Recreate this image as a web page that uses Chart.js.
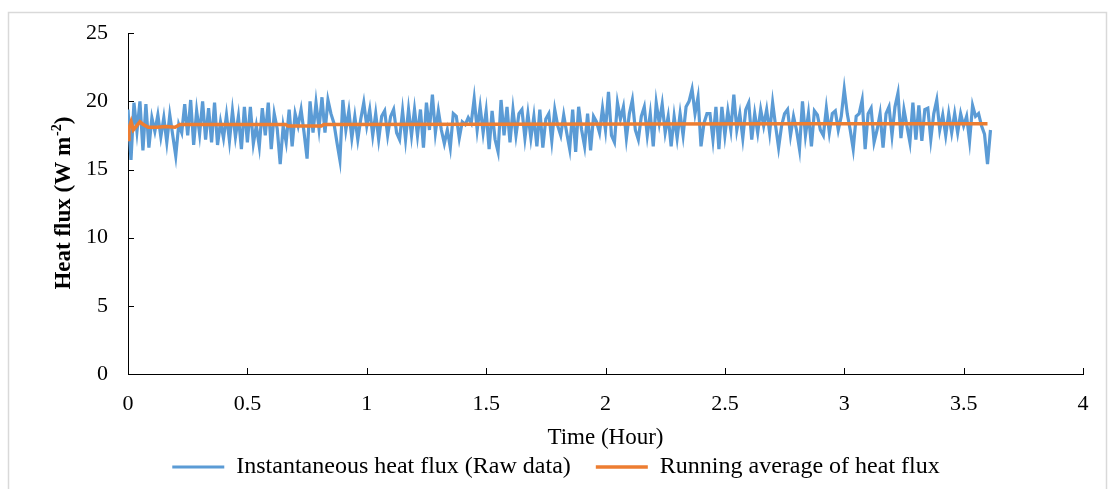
<!DOCTYPE html>
<html><head><meta charset="utf-8">
<script src="https://cdn.jsdelivr.net/npm/chart.js@4.4.1/dist/chart.umd.min.js"></script>
<style>html,body{margin:0;padding:0;background:#fff;overflow:hidden}canvas{display:block}</style>
</head><body>
<canvas id="c" width="1115" height="489"></canvas>
<script>
// ---- data ----
const sampleIntervalHours = 0.0125; // one raw reading every 45 s
const rawFlux = [
  // 0 - 0.575 h
  19.4, 15.7, 19.9, 17.8, 20.0, 16.4, 19.8, 16.6, 18.8, 17.8,
  19.0, 17.4, 18.8, 17.0, 19.0, 17.5, 16.0, 18.3, 17.7, 19.8,
  17.5, 20.1, 16.8, 19.3, 17.6, 20.0, 17.2, 19.5, 17.0, 19.9,
  16.8, 18.5, 17.3, 19.0, 17.1, 19.3, 17.4, 18.9, 16.5, 19.6,
  17.0, 19.6, 16.9, 18.2, 16.7, 19.5, 17.5,
  // 0.5875 - 1.2 h
  19.9, 16.5, 19.1, 18.0, 15.4, 18.2, 17.0, 19.4, 16.7, 19.1,
  18.2, 19.4, 17.7, 15.8, 20.0, 17.7, 19.9, 18.0, 20.3, 17.7,
  20.1, 19.1, 18.4, 17.0, 15.7, 20.1, 17.9, 19.3, 17.3, 18.9,
  17.2, 18.7, 19.9, 18.2, 19.4, 17.5, 19.1, 17.2, 18.9, 19.3,
  17.5, 18.9, 19.4, 17.7, 17.2, 19.3, 17.2, 19.4, 17.5, 19.4,
  // 1.2125 - 1.8 h
  17.5, 19.4, 16.6, 19.9, 17.9, 20.5, 17.7, 19.3, 17.9, 16.9,
  17.9, 16.6, 19.1, 18.9, 17.3, 18.5, 18.3, 18.8, 18.4, 20.2,
  17.9, 19.6, 17.7, 19.3, 16.5, 19.3, 17.2, 16.3, 20.1, 17.5,
  19.6, 17.0, 19.4, 17.5, 19.1, 19.4, 17.3, 19.1, 17.3, 18.9,
  16.7, 19.4, 16.6, 18.7, 19.1, 17.1, 19.4, 18.2,
  // 1.8125 - 2.4125 h
  17.5, 19.0, 17.7, 16.5, 19.4, 16.3, 19.6, 17.9, 16.7, 19.1,
  16.4, 18.9, 18.5, 17.7, 19.5, 17.9, 20.7, 17.5, 17.0, 19.9,
  18.7, 19.6, 17.3, 19.1, 20.1, 17.9, 17.2, 18.9, 19.6, 17.5,
  19.1, 16.7, 19.9, 18.4, 19.8, 17.7, 18.9, 16.7, 18.9, 17.3,
  19.1, 17.5, 19.6, 20.0, 20.9, 19.1, 20.3, 16.7, 18.4, 19.1,
  // 2.425 - 3.025 h
  19.1, 17.2, 19.6, 16.5, 19.6, 17.5, 19.3, 17.9, 20.5, 17.9,
  19.1, 17.3, 19.4, 19.9, 17.2, 19.1, 17.7, 19.4, 18.2, 19.4,
  17.7, 19.9, 18.2, 16.6, 18.2, 19.1, 19.4, 17.5, 18.9, 17.9,
  16.5, 20.0, 17.5, 19.1, 16.7, 19.3, 19.0, 17.9, 17.5, 19.5,
  17.7, 19.1, 19.3, 17.9, 18.9, 20.9, 19.1, 17.9, 16.5,
  // 3.0375 - 3.6 h
  18.9, 19.1, 20.1, 16.5, 19.1, 19.5, 17.0, 17.9, 19.1, 16.6,
  19.1, 19.6, 17.5, 19.6, 20.6, 17.3, 19.4, 18.2, 17.0, 19.9,
  17.2, 19.7, 17.1, 19.4, 19.5, 17.2, 19.1, 20.1, 17.9, 19.0,
  17.5, 19.1, 17.7, 19.1, 17.7, 19.1, 18.2, 18.9, 17.1, 19.7,
  18.9, 19.1, 18.2, 17.6, 15.4, 17.9
];
const avgTimes = [0, 0.004, 0.013, 0.022, 0.036, 0.05, 0.064, 0.085, 0.12, 0.16, 0.197, 0.218, 0.66, 0.67, 0.81, 0.82, 2.86, 3.6];
const avgFlux  = [17.2, 18.0, 18.5, 17.9, 18.2, 18.5, 18.3, 18.1, 18.1, 18.15, 18.1, 18.3, 18.3, 18.2, 18.2, 18.3, 18.35, 18.35];

const seriesLabels = ['Instantaneous heat flux (Raw data)', 'Running average of heat flux'];
const seriesColors = ['#5B9BD5', '#ED7D31'];
const xTitle = 'Time (Hour)';
const yTitleParts = ['Heat flux (W m', '-2', ')'];
const xRange = [0, 4], xStep = 0.5;
const yRange = [0, 25], yStep = 5;

// ---- build datasets ----
const rawPoints = rawFlux.map((v, i) => ({x: +(i * sampleIntervalHours).toFixed(4), y: v}));
const avgPoints = avgTimes.map((t, i) => ({x: t, y: avgFlux[i]}));

const FONT = 'Liberation Serif';
Chart.defaults.font.family = FONT;
Chart.defaults.color = '#000';

const decor = {
  id: 'decor',
  beforeDraw(chart) {
    const ctx = chart.ctx;
    ctx.save();
    ctx.fillStyle = '#fff';
    ctx.fillRect(0, 0, chart.width, chart.height);
    ctx.strokeStyle = '#d9d9d9';
    ctx.lineWidth = 1.5;
    ctx.strokeRect(8.5, 12.5, 1098, 490);
    ctx.restore();
  },
  beforeDatasetsDraw(chart) {
    const ctx = chart.ctx, xs = chart.scales.x, ys = chart.scales.y, a = chart.chartArea;
    ctx.save();
    ctx.strokeStyle = '#000';
    ctx.lineWidth = 1;
    ctx.beginPath();
    xs.ticks.forEach(t => {
      const px = Math.round(xs.getPixelForValue(t.value)) + 0.5;
      ctx.moveTo(px, a.bottom); ctx.lineTo(px, a.bottom - 6);
    });
    ys.ticks.forEach(t => {
      const py = Math.round(ys.getPixelForValue(t.value)) + 0.5;
      ctx.moveTo(a.left, py); ctx.lineTo(a.left + 6, py);
    });
    ctx.stroke();
    ctx.restore();
  },
  afterDraw(chart) {
    const ctx = chart.ctx, a = chart.chartArea;
    ctx.save();
    ctx.translate(62, (a.top + a.bottom) / 2);
    ctx.rotate(-Math.PI / 2);
    ctx.fillStyle = '#000';
    ctx.textBaseline = 'alphabetic';
    ctx.textAlign = 'left';
    const big = 'bold 23px "' + FONT + '"', small = 'bold 14px "' + FONT + '"';
    ctx.font = big; const w1 = ctx.measureText(yTitleParts[0]).width;
    ctx.font = small; const w2 = ctx.measureText(yTitleParts[1]).width;
    ctx.font = big; const w3 = ctx.measureText(yTitleParts[2]).width;
    let x = -(w1 + w2 + w3) / 2;
    const base = 7.5;
    ctx.font = big; ctx.fillText(yTitleParts[0], x, base);
    ctx.font = small; ctx.fillText(yTitleParts[1], x + w1 + 1, base - 9);
    ctx.font = big; ctx.fillText(yTitleParts[2], x + w1 + w2 + 1, base);
    ctx.restore();
  }
};

new Chart(document.getElementById('c'), {
  type: 'line',
  data: {
    datasets: [
      {label: seriesLabels[0], data: rawPoints, borderColor: seriesColors[0], backgroundColor: seriesColors[0],
       borderWidth: 3.2, pointRadius: 0, tension: 0, order: 1},
      {label: seriesLabels[1], data: avgPoints, borderColor: seriesColors[1], backgroundColor: seriesColors[1],
       borderWidth: 3.5, pointRadius: 0, tension: 0, order: 0}
    ]
  },
  options: {
    responsive: false,
    animation: false,
    devicePixelRatio: 1,
    layout: {padding: {top: 27, right: 32, bottom: 0, left: 29}},
    plugins: {
      legend: {
        position: 'bottom',
        labels: {
          usePointStyle: true, pointStyle: 'line', pointStyleWidth: 52,
          padding: 25, font: {size: 24}, color: '#000',
          sort: (a, b) => a.datasetIndex - b.datasetIndex
        }
      },
      tooltip: {enabled: false}
    },
    scales: {
      x: {
        type: 'linear', min: xRange[0], max: xRange[1],
        ticks: {stepSize: xStep, padding: 17, font: {size: 22}, color: '#000', maxRotation: 0, autoSkip: false,
                callback: v => String(v)},
        grid: {display: true, drawOnChartArea: false, drawTicks: false},
        border: {display: true, color: '#000', width: 1},
        title: {display: true, text: xTitle, font: {size: 23}, color: '#000', padding: {top: 0, bottom: -21.8}},
        afterFit(s) { s.height = 56; }
      },
      y: {
        type: 'linear', min: yRange[0], max: yRange[1],
        ticks: {stepSize: yStep, padding: 20, font: {size: 22}, color: '#000'},
        grid: {display: true, drawOnChartArea: false, drawTicks: false},
        border: {display: true, color: '#000', width: 1},
        afterFit(s) { s.width = 99; }
      }
    }
  },
  plugins: [decor]
});
</script>
</body></html>
